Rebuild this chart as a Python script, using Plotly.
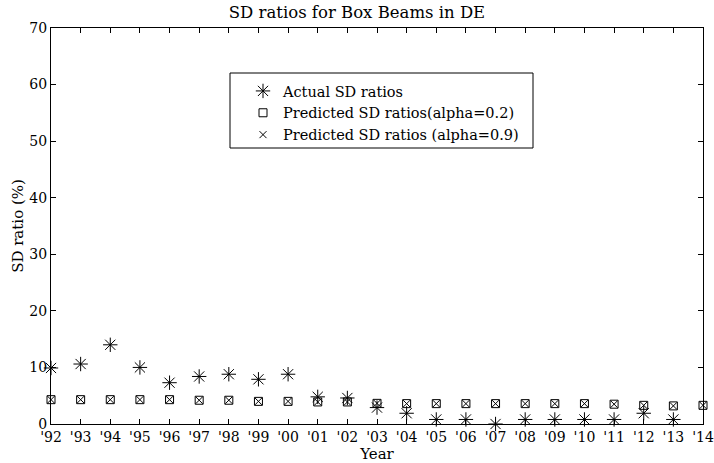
import plotly.graph_objects as go

years = list(range(1992, 2015))
tick_labels = ["'92", "'93", "'94", "'95", "'96", "'97", "'98", "'99", "'00", "'01", "'02",
               "'03", "'04", "'05", "'06", "'07", "'08", "'09", "'10", "'11", "'12", "'13", "'14"]

actual_years = list(range(1992, 2014))
actual_sd = [9.9, 10.6, 14.0, 10.0, 7.3, 8.4, 8.8, 7.9, 8.8, 4.8, 4.6,
             2.9, 1.9, 0.8, 0.8, 0.0, 0.8, 0.8, 0.8, 0.8, 1.9, 0.8]

pred_02 = [4.3, 4.3, 4.3, 4.3, 4.3, 4.2, 4.2, 4.0, 4.0, 3.9, 3.9,
           3.65, 3.6, 3.6, 3.6, 3.6, 3.6, 3.6, 3.6, 3.5, 3.3, 3.2, 3.3]
pred_09 = [4.3, 4.3, 4.3, 4.3, 4.3, 4.2, 4.2, 4.0, 4.0, 3.9, 3.9,
           3.65, 3.6, 3.6, 3.6, 3.6, 3.6, 3.6, 3.6, 3.5, 3.3, 3.2, 3.3]

FONT = "DejaVu Serif, Liberation Serif, serif"

fig = go.Figure()
fig.add_trace(go.Scatter(
    x=actual_years, y=actual_sd, mode="markers", name="Actual SD ratios", cliponaxis=False,
    marker=dict(symbol="asterisk-open", size=12, color="black", line=dict(color="black", width=1)),
))
fig.add_trace(go.Scatter(
    x=years, y=pred_02, mode="markers", name="Predicted SD ratios(alpha=0.2)", cliponaxis=False,
    marker=dict(symbol="square-open", size=8, color="black", line=dict(color="black", width=1)),
))
fig.add_trace(go.Scatter(
    x=years, y=pred_09, mode="markers", name="Predicted SD ratios (alpha=0.9)", cliponaxis=False,
    marker=dict(symbol="x-thin-open", size=7, color="black", line=dict(color="black", width=1)),
))

# legend frame (plot area spans x 51..703 px, y 28..424 px)
fig.add_shape(type="rect", xref="paper", yref="paper",
              x0=(230 - 51) / 652, x1=(533 - 51) / 652,
              y0=(424 - 148) / 396, y1=(424 - 73) / 396,
              line=dict(color="black", width=1), fillcolor="white", layer="below")

fig.update_layout(
    width=714, height=463,
    margin=dict(l=51, r=11, t=28, b=39),
    paper_bgcolor="white", plot_bgcolor="white",
    font=dict(family=FONT, size=14, color="black"),
    title=dict(text="SD ratios for Box Beams in DE", x=0.5, xanchor="center",
               y=0.985, yanchor="top", font=dict(family=FONT, size=16.5)),
    showlegend=True,
    legend=dict(x=(243 - 51) / 652, y=(424 - 75) / 396, xanchor="left", yanchor="top",
                borderwidth=0, bgcolor="rgba(0,0,0,0)",
                font=dict(family=FONT, size=14.5), tracegroupgap=2,
                itemsizing="trace"),
    xaxis=dict(range=[1992, 2014], tickvals=years, ticktext=tick_labels, automargin=False,
               ticks="inside", ticklen=5, tickcolor="black", showgrid=False, zeroline=False,
               showline=True, linecolor="black", linewidth=1, mirror="ticks",
               title=dict(text="Year", standoff=0, font=dict(family=FONT, size=15)),
               tickfont=dict(family=FONT, size=14)),
    yaxis=dict(range=[0, 70], dtick=10, tick0=0, automargin=False,
               ticks="inside", ticklen=5, tickcolor="black", showgrid=False, zeroline=False,
               showline=True, linecolor="black", linewidth=1, mirror="ticks",
               title=dict(text="SD ratio (%)", standoff=2, font=dict(family=FONT, size=15)),
               tickfont=dict(family=FONT, size=14)),
)

fig.write_html("out.html", config={"displayModeBar": False},
               post_script="document.body.style.margin='0';document.body.style.overflow='hidden';")
